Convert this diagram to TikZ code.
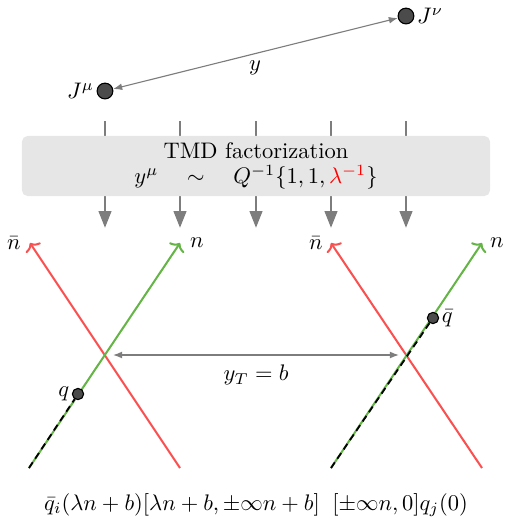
\documentclass[tikz,border=0pt]{standalone}
\usetikzlibrary{arrows.meta}
\definecolor{boxgray}{RGB}{230,230,230}
\definecolor{arrgray}{RGB}{125,125,125}
\definecolor{dotgray}{RGB}{75,75,75}
\definecolor{myred}{RGB}{250,80,80}
\definecolor{mygreen}{RGB}{100,180,70}
\begin{document}
\begin{tikzpicture}[x=0.4444pt,y=-0.4444pt,
  bigdot/.style={circle,draw=black,fill=dotgray,inner sep=0pt,minimum size=7pt,line width=0.5pt},
  smalldot/.style={circle,draw=black,fill=dotgray,inner sep=0pt,minimum size=5pt,line width=0.5pt},
  sep/.style={arrgray,line width=0.5pt,{Latex[length=4pt,width=3pt]}-{Latex[length=4pt,width=3pt]}},
  flow/.style={arrgray,line width=1.3pt,-{Triangle[length=7.5pt,width=5.5pt]}},
  fbox/.style={fill=boxgray,rounded corners=2.5pt},
  redline/.style={myred,line width=0.9pt,-{To[length=3pt,width=8pt]}},
  greenline/.style={mygreen,line width=0.9pt,-{To[length=3pt,width=8pt]}},
  wline/.style={black,line width=0.8pt,dash pattern=on 3pt off 2pt}
]
\useasboundingbox (0,0) rectangle (509,521);
% currents
\node[bigdot] (Jnu) at (406,16) {};
\node[bigdot] (Jmu) at (105,91) {};
\node[anchor=west,inner sep=1pt] (Jnul) at (Jnu.east) {$J^\nu$};
\node[anchor=east,inner sep=1pt] (Jmul) at (Jmu.west) {$J^\mu$};
\draw[sep] (Jmu) -- (Jnu);
\node (ylab) at (255,68) {$y$};
% flow arrows
\foreach \x [count=\i] in {105,180,256,331,406}{
  \coordinate (t\i) at (\x,121);
  \coordinate (b\i) at (\x,228);
  \draw[flow] (t\i) -- (b\i);
}
\node[fbox,minimum width=208pt,minimum height=26.7pt] (box) at (256,166) {};
\node[align=center,inner sep=0pt] (boxtext) at (256,166) {TMD factorization\\[-1pt]
  $y^\mu\quad\sim\quad Q^{-1}\{1,1,\textcolor{red}{\lambda^{-1}}\}$};
% left cross
\coordinate (L1) at (29,468);
\coordinate (L2) at (180,243);
\coordinate (L3) at (180,468);
\coordinate (L4) at (30,243);
\coordinate (R1) at (331,468);
\coordinate (R2) at (482,243);
\coordinate (R3) at (482,468);
\coordinate (R4) at (331,243);
\draw[redline] (L3) -- (L4);
\draw[greenline] (L1) -- (L2);
\draw[redline] (R3) -- (R4);
\draw[greenline] (R1) -- (R2);
\node (nbL) at (14,243) {$\bar n$};
\node (nL) at (197,243) {$n$};
\node (nbR) at (316,243) {$\bar n$};
\node (nR) at (497,243) {$n$};
% quark fields
\node[smalldot] (q) at (78,394) {};
\node[smalldot] (qb) at (433,318) {};
\draw[wline] (L1) -- (q);
\draw[wline] (R1) -- (qb);
\node[anchor=east,inner sep=1pt] (ql) at (q.west) {$q$};
\node[anchor=west,inner sep=1pt] (qbl) at (qb.east) {$\bar q$};
% transverse separation
\coordinate (xL) at (113,355);
\coordinate (xR) at (399,355);
\draw[sep] (xL) -- (xR);
\node (yT) at (256,375) {$y_T=b$};
% bottom text
\node (bottom) at (256,505) {$\bar q_i(\lambda n+b)[\lambda n+b,\pm\infty n+b]\;\;[\pm\infty n,0]q_j(0)$};
\end{tikzpicture}
\end{document}
